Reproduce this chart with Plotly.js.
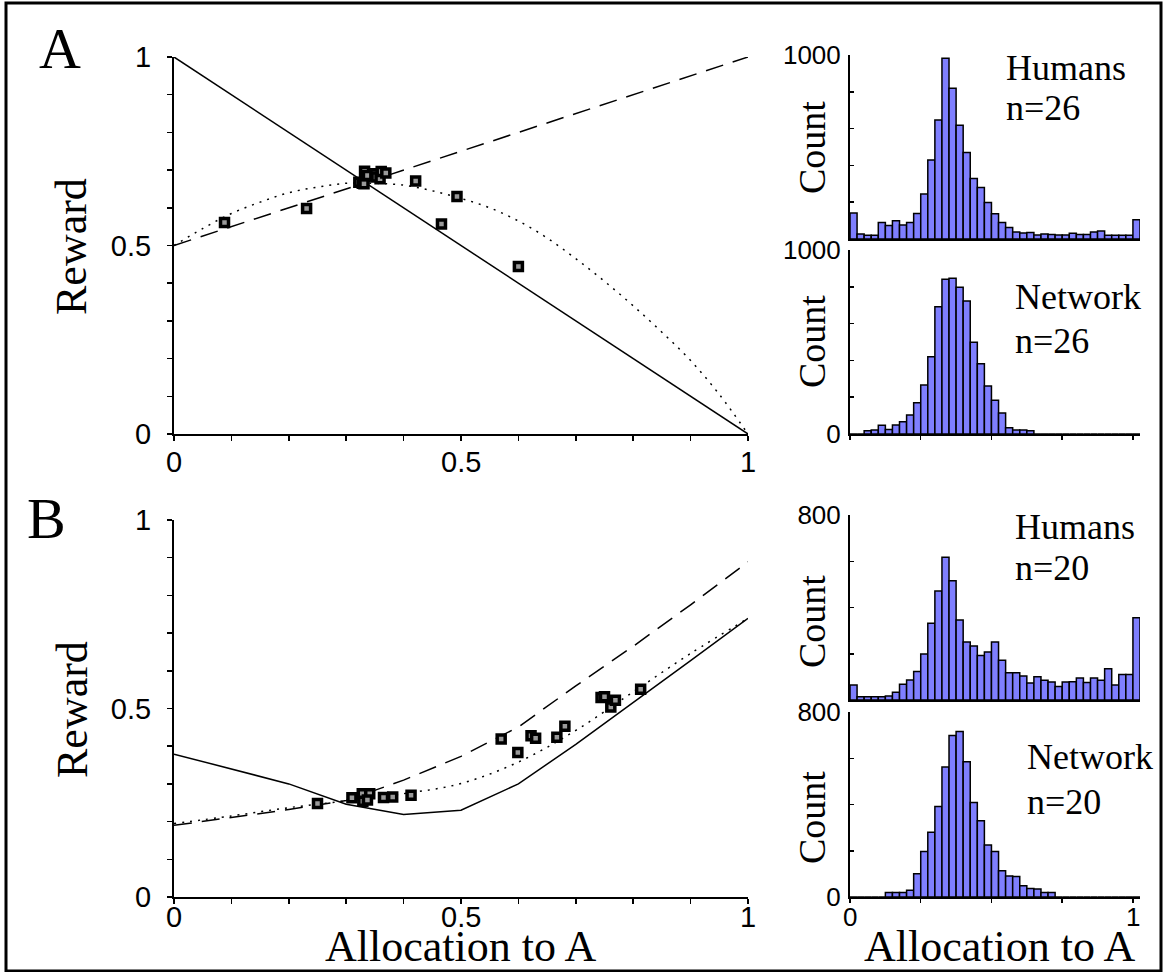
<!DOCTYPE html>
<html>
<head>
<meta charset="utf-8">
<script src="https://cdn.plot.ly/plotly-3.0.1.min.js"></script>
<style>html,body{margin:0;padding:0;background:#fff;}#chart{width:1164px;height:972px;}</style>
</head>
<body>
<div id="chart"></div>
<script>
// ---------- Panel A (main) ----------
const lineX = [0, 0.1, 0.2, 0.3, 0.4, 0.5, 0.6, 0.7, 0.8, 0.9, 1];
const aSolid = [1, 0.9, 0.8, 0.7, 0.6, 0.5, 0.4, 0.3, 0.2, 0.1, 0];
const aDashed = [0.5, 0.55, 0.6, 0.65, 0.7, 0.75, 0.8, 0.85, 0.9, 0.95, 1];
const aDotX = [0, 0.05, 0.1, 0.15, 0.2, 0.25, 0.3, 0.35, 0.4, 0.45, 0.5, 0.55, 0.6, 0.65, 0.7, 0.75, 0.8, 0.85, 0.9, 0.95, 1];
const aDotY = [0.5, 0.545, 0.585, 0.615, 0.64, 0.655, 0.665, 0.665, 0.66, 0.645, 0.625, 0.6, 0.565, 0.52, 0.465, 0.405, 0.34, 0.27, 0.195, 0.105, 0.0];
const aPtsX = [0.088, 0.231, 0.322, 0.328, 0.332, 0.331, 0.337, 0.350, 0.352, 0.359, 0.361, 0.369, 0.421, 0.493, 0.466, 0.600];
const aPtsY = [0.561, 0.598, 0.668, 0.665, 0.697, 0.664, 0.686, 0.690, 0.682, 0.677, 0.696, 0.692, 0.671, 0.630, 0.557, 0.444];

// ---------- Panel B (main) ----------
const bSolid = [0.379, 0.34, 0.300, 0.246, 0.219, 0.230, 0.300, 0.405, 0.515, 0.627, 0.739];
const bDashed = [0.19, 0.21, 0.232, 0.256, 0.31, 0.373, 0.451, 0.56, 0.665, 0.775, 0.889];
const bDotted = [0.195, 0.215, 0.237, 0.255, 0.274, 0.301, 0.358, 0.442, 0.544, 0.646, 0.739];
const bPtsX = [0.250, 0.310, 0.328, 0.329, 0.341, 0.337, 0.365, 0.381, 0.413, 0.570, 0.599, 0.622, 0.630, 0.667, 0.681, 0.744, 0.750, 0.761, 0.769, 0.813];
const bPtsY = [0.248, 0.263, 0.274, 0.254, 0.274, 0.257, 0.264, 0.265, 0.270, 0.419, 0.383, 0.428, 0.421, 0.424, 0.453, 0.529, 0.531, 0.504, 0.522, 0.551];

// ---------- Histograms (41 bins of width 0.025) ----------
const humansA = [141, 27, 20, 20, 90, 74, 99, 76, 90, 139, 244, 430, 647, 982, 819, 618, 470, 329, 280, 199, 137, 90, 63, 38, 33, 36, 22, 27, 25, 22, 22, 31, 24, 24, 38, 43, 20, 20, 20, 20, 105];
const networkA = [0, 0, 18, 22, 47, 25, 49, 67, 103, 170, 266, 420, 692, 841, 846, 797, 723, 498, 382, 261, 183, 114, 34, 22, 22, 18, 0, 0, 0, 0, 0, 0, 0, 0, 0, 0, 0, 0, 0, 0, 0];
const humansB = [65, 14, 14, 14, 14, 17, 33, 68, 86, 123, 199, 332, 471, 617, 516, 346, 251, 234, 192, 208, 251, 172, 118, 118, 104, 74, 101, 85, 78, 58, 78, 79, 95, 76, 95, 85, 135, 65, 110, 110, 356];
const networkB = [0, 0, 0, 0, 0, 19, 19, 19, 29, 101, 197, 280, 391, 562, 698, 716, 585, 409, 330, 225, 197, 114, 91, 89, 49, 37, 35, 19, 19, 0, 0, 0, 0, 0, 0, 0, 0, 0, 0, 0, 0];
const binWidth = 0.025;
const binCenters = humansA.map((_, k) => k * binWidth + binWidth / 2);

// tick labels
const mainTickVals = [0, 0.1, 0.2, 0.3, 0.4, 0.5, 0.6, 0.7, 0.8, 0.9, 1];
const mainTickText = ['0', '', '', '', '', '0.5', '', '', '', '', '1'];
const mainXLabelVals = [0, 0.5, 1];
const mainXLabels = ['0', '0.5', '1'];
const histXTickVals = [0, 0.25, 0.5, 0.75, 1];
const histXLabelVals = [0, 1];
const histXLabels = ['0', '1'];

const W = 1164, H = 972;
const px = v => v / W;
const py = v => (H - v) / H;

const serif = 'Liberation Serif, Times New Roman, serif';
const sans = 'Liberation Sans, Arial, sans-serif';

const lineStyle = (dash) => ({color: 'black', width: 1.5, dash: dash});
const markerStyle = {symbol: 'square', size: 8, color: '#9a9a9a', line: {color: 'black', width: 3.5}};
const barMarker = {color: '#7f7fff', line: {color: 'black', width: 1.5}};

const traces = [
  {x: lineX, y: aSolid, xaxis: 'x', yaxis: 'y', mode: 'lines', line: lineStyle('solid'), cliponaxis: false},
  {x: lineX, y: aDashed, xaxis: 'x', yaxis: 'y', mode: 'lines', line: lineStyle('18px,10px'), cliponaxis: false},
  {x: aDotX, y: aDotY, xaxis: 'x', yaxis: 'y', mode: 'lines', line: Object.assign(lineStyle('2px,6px'), {shape: 'spline'}), cliponaxis: false},
  {x: aPtsX, y: aPtsY, xaxis: 'x', yaxis: 'y', mode: 'markers', marker: markerStyle, cliponaxis: false},

  {x: lineX, y: bSolid, xaxis: 'x2', yaxis: 'y2', mode: 'lines', line: lineStyle('solid'), cliponaxis: false},
  {x: lineX, y: bDashed, xaxis: 'x2', yaxis: 'y2', mode: 'lines', line: lineStyle('18px,10px'), cliponaxis: false},
  {x: lineX, y: bDotted, xaxis: 'x2', yaxis: 'y2', mode: 'lines', line: Object.assign(lineStyle('2px,6px'), {shape: 'spline'}), cliponaxis: false},
  {x: bPtsX, y: bPtsY, xaxis: 'x2', yaxis: 'y2', mode: 'markers', marker: markerStyle, cliponaxis: false},

  {type: 'bar', x: binCenters, y: humansA, width: binWidth, xaxis: 'x3', yaxis: 'y3', marker: barMarker},
  {type: 'bar', x: binCenters, y: networkA, width: binWidth, xaxis: 'x4', yaxis: 'y4', marker: barMarker},
  {type: 'bar', x: binCenters, y: humansB, width: binWidth, xaxis: 'x5', yaxis: 'y5', marker: barMarker},
  {type: 'bar', x: binCenters, y: networkB, width: binWidth, xaxis: 'x6', yaxis: 'y6', marker: barMarker}
];

const baseAxis = {
  showgrid: false, zeroline: false, showline: true, linecolor: 'black', linewidth: 2,
  tickcolor: 'black', tickwidth: 1.5, tickfont: {family: sans, size: 29, color: 'black'},
  fixedrange: true
};
const mainX = (dom, anchor) => Object.assign({}, baseAxis, {
  domain: dom, anchor: anchor, range: [0, 1], tickmode: 'array', tickvals: mainTickVals,
  showticklabels: false, ticks: 'outside', ticklen: 5
});
const mainY = (dom, anchor) => Object.assign({}, baseAxis, {
  domain: dom, anchor: anchor, range: [0, 1], tickmode: 'array', tickvals: mainTickVals, ticktext: mainTickText,
  ticks: 'outside', ticklen: 5, ticklabelstandoff: 10
});

const histXdom = [px(850), px(1140)];
const histX = (anchor, showTicks) => Object.assign({}, baseAxis, {
  domain: histXdom, anchor: anchor, range: [0, 1.025], tickmode: 'array',
  tickvals: histXTickVals, showticklabels: false,
  ticks: showTicks ? 'outside' : '', ticklen: 4
});
const histY = (dom, anchor, top, labels) => {
  const vals = [0, 200, 400, 600, 800, 1000].filter(v => v <= top);
  return Object.assign({}, baseAxis, {
    domain: dom, anchor: anchor, range: [0, top], tickmode: 'array', tickvals: vals,
    ticktext: vals.map(v => (v === top ? String(v) : (v === 0 && labels ? '0' : ''))),
    ticks: 'inside', ticklen: 4, ticklabelstandoff: 2,
    tickfont: {family: sans, size: 26, color: 'black'}
  });
};

const ann = (text, x, y, size, opts) => Object.assign({
  text: text, x: px(x), y: py(y), xref: 'paper', yref: 'paper', showarrow: false,
  xanchor: 'center', yanchor: 'middle', font: {family: serif, size: size, color: 'black'}
}, opts || {});

const tickAnn = (text, xval, xref, ypx, size) => ({
  text: text, x: xval, xref: xref, y: py(ypx), yref: 'paper', showarrow: false,
  xanchor: 'center', yanchor: 'middle', font: {family: sans, size: size, color: 'black'}
});

const annotations = [
  ann('A', 60, 48, 58),
  ann('B', 46, 519, 58),
  ann('Reward', 72, 247, 44, {textangle: -90}),
  ann('Reward', 72, 710, 44, {textangle: -90}),
  ann('Count', 812, 148, 38, {textangle: -90}),
  ann('Count', 812, 342, 38, {textangle: -90}),
  ann('Count', 812, 622, 38, {textangle: -90}),
  ann('Count', 812, 818, 38, {textangle: -90}),
  ann('Humans', 1004, 68, 36, {xanchor: 'left'}),
  ann('n=26', 1004, 108, 36, {xanchor: 'left'}),
  ann('Network', 1013, 297, 36, {xanchor: 'left'}),
  ann('n=26', 1013, 341, 36, {xanchor: 'left'}),
  ann('Humans', 1013, 527, 36, {xanchor: 'left'}),
  ann('n=20', 1013, 568, 36, {xanchor: 'left'}),
  ann('Network', 1025, 757, 36, {xanchor: 'left'}),
  ann('n=20', 1025, 802, 36, {xanchor: 'left'}),
  ann('Allocation to A', 461, 946, 44),
  ann('Allocation to A', 1000, 946, 44)
];
mainXLabelVals.forEach((v, i) => {
  annotations.push(tickAnn(mainXLabels[i], v, 'x', 462, 29));
  annotations.push(tickAnn(mainXLabels[i], v, 'x2', 917, 29));
});
histXLabelVals.forEach((v, i) => {
  annotations.push(tickAnn(histXLabels[i], v, 'x6', 917, 26));
});

const layout = {
  width: W, height: H,
  margin: {l: 0, r: 0, t: 0, b: 0},
  paper_bgcolor: 'white', plot_bgcolor: 'rgba(0,0,0,0)',
  showlegend: false, bargap: 0,
  xaxis: mainX([px(174), px(748)], 'y'),
  yaxis: mainY([py(434), py(57)], 'x'),
  xaxis2: mainX([px(174), px(748)], 'y2'),
  yaxis2: mainY([py(897), py(520)], 'x2'),
  xaxis3: histX('y3', false),
  yaxis3: histY([py(239), py(55)], 'x3', 1000, false),
  xaxis4: histX('y4', true),
  yaxis4: histY([py(434), py(250)], 'x4', 1000, true),
  xaxis5: histX('y5', false),
  yaxis5: histY([py(700), py(515)], 'x5', 800, false),
  xaxis6: histX('y6', true),
  yaxis6: histY([py(897), py(712)], 'x6', 800, true),
  shapes: [
    {type: 'rect', xref: 'paper', yref: 'paper', x0: px(6), x1: px(1161), y0: py(971), y1: py(3),
     line: {color: 'black', width: 3}, fillcolor: 'rgba(0,0,0,0)'}
  ],
  annotations: annotations
};

Plotly.newPlot('chart', traces, layout, {staticPlot: true, displayModeBar: false});
</script>
</body>
</html>
